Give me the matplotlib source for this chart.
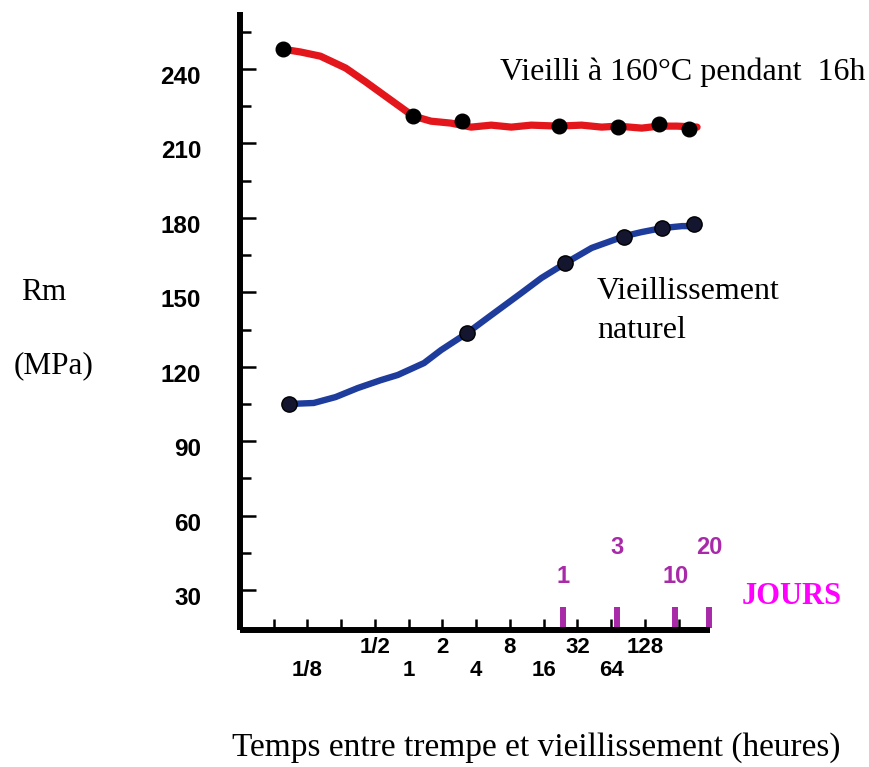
import matplotlib
matplotlib.use("Agg")
import matplotlib.pyplot as plt
import matplotlib.transforms as mtransforms

# Rm (MPa) versus time between quench and ageing (hours, log2 scale)
red_h = [0.075, 1.1, 3.0, 22, 74, 170, 320]
red_mpa = [248, 221, 219, 217, 216.5, 218, 216]

blue_h = [0.086, 3.3, 25, 84, 181, 350]
blue_mpa = [105, 133.5, 162, 172.5, 176, 177.5]

# hand-drawn trend curves
red_curve_h = [0.073, 0.108, 0.163, 0.274, 0.414, 0.693, 1.09, 1.58, 2.39, 3.61,
               5.45, 8.23, 12.4, 21.7, 34.9, 52.7, 73.3, 120, 171, 248, 374]
red_curve_mpa = [248.1, 246.9, 245.2, 240.4, 234.8, 227.5, 221.1, 219.0, 218.2, 216.6,
                 217.4, 216.6, 217.4, 217.0, 217.4, 216.6, 217.0, 216.2, 217.0, 217.0, 216.6]

blue_curve_h = [0.086, 0.142, 0.223, 0.350, 0.563, 0.800, 1.37, 1.94, 3.32, 5.45,
                10.1, 15.3, 25.1, 42.9, 84.7, 120, 182, 275, 390]
blue_curve_mpa = [105.0, 105.4, 107.8, 111.4, 114.6, 116.7, 121.5, 126.7, 133.6, 140.8,
                  149.7, 155.8, 161.8, 167.9, 172.7, 174.3, 175.9, 176.7, 176.7]

y_major = [30, 60, 90, 120, 150, 180, 210, 240]
y_minor = [45, 75, 105, 135, 165, 195, 225, 255]

x_tick_h = [2.0 ** k for k in range(-4, 9)]
x_label_h = [1 / 8, 1 / 2, 1, 2, 4, 8, 16, 32, 64, 128]
x_label_txt = ["1/8", "1/2", "1", "2", "4", "8", "16", "32", "64", "128"]
x_label_row = [0, 1, 0, 1, 0, 1, 0, 1, 0, 1]  # 1 = upper row

jours = [1, 3, 10, 20]
jours_row = [0, 1, 0, 1]

RED = "#E3161C"
BLUE = "#1E3C9C"
PURPLE = "#A82AA8"
MAGENTA = "#FF00FF"

SANS = "Liberation Sans"
SERIF = "Liberation Serif"

W, H = 870, 767
fig = plt.figure(figsize=(W / 100, H / 100), dpi=100)
ax = fig.add_axes([240 / W, (H - 630) / H, 470 / W, 618 / H])


def fx(px):
    return px / W


def fy(py):
    return 1 - py / H


ax.set_xscale("log", base=2)
ax.set_xlim(2 ** -5, 2 ** 8.93)
ax.set_ylim(13.9, 263.0)

for s in ("top", "right"):
    ax.spines[s].set_visible(False)
for s in ("left", "bottom"):
    ax.spines[s].set_linewidth(4.3)
    ax.spines[s].set_capstyle("butt")

ax.plot(red_curve_h, red_curve_mpa, color=RED, lw=5.2, solid_capstyle="round",
        solid_joinstyle="round", zorder=3)
ax.plot(blue_curve_h, blue_curve_mpa, color=BLUE, lw=4.6, solid_capstyle="round",
        solid_joinstyle="round", zorder=3)
ax.plot(red_h, red_mpa, "o", color="black", ms=10.5, zorder=4)
ax.plot(blue_h, blue_mpa, "o", color="black", mfc="#141630", ms=11, zorder=4)

# y axis
ax.set_yticks(y_major)
ax.set_yticks(y_minor, minor=True)
ax.tick_params(axis="y", which="major", direction="in", length=11.5, width=1.8,
               pad=28, labelsize=17.5)
ax.tick_params(axis="y", which="minor", direction="in", length=8, width=1.8)
shift = mtransforms.ScaledTranslation(0, -6 / 100, fig.dpi_scale_trans)
for lab in ax.get_yticklabels():
    lab.set_fontfamily(SANS)
    lab.set_fontweight("bold")
    lab.set_transform(lab.get_transform() + shift)

# x axis: ticks every doubling, labels staggered on two rows
ax.set_xticks(x_tick_h)
ax.set_xticks([], minor=True)
ax.set_xticklabels([])
ax.tick_params(axis="x", which="major", direction="in", length=8, width=1.8)
xt = ax.get_xaxis_transform()
row_y = {1: -0.0291, 0: -0.0663}
for h, t, r in zip(x_label_h, x_label_txt, x_label_row):
    ax.text(h, row_y[r], t, transform=xt, ha="center", va="center",
            fontsize=16, fontweight="bold", family=SANS, clip_on=False)

# day marks
for d, r in zip(jours, jours_row):
    ax.plot([d * 24, d * 24], [0.003, 0.037], transform=xt, color=PURPLE,
            lw=4.3, solid_capstyle="butt", zorder=2, clip_on=False)
    ax.text(d * 24, 0.0858 if r == 0 else 0.1327, str(d), transform=xt,
            ha="center", va="center", fontsize=17, fontweight="bold",
            family=SANS, color=PURPLE)

fig.text(fx(742), fy(597), "JOURS", ha="left", va="center", fontsize=22,
         fontweight="bold", family=SERIF, color=MAGENTA)

fig.text(fx(500), fy(80), "Vieilli à 160°C pendant  16h", ha="left",
         va="baseline", fontsize=23, family=SERIF)
fig.text(fx(597), fy(299), "Vieillissement", ha="left", va="baseline",
         fontsize=23, family=SERIF)
fig.text(fx(597), fy(338), "naturel", ha="left", va="baseline",
         fontsize=23, family=SERIF)

fig.text(fx(21), fy(300), "Rm", ha="left", va="baseline", fontsize=22.5, family=SERIF)
fig.text(fx(14), fy(373), "(MPa)", ha="left", va="baseline", fontsize=22.5, family=SERIF)

fig.text(fx(232), fy(756), "Temps entre trempe et vieillissement (heures)",
         ha="left", va="baseline", fontsize=24, family=SERIF)

fig.savefig("out.png", dpi=100, facecolor="white")
